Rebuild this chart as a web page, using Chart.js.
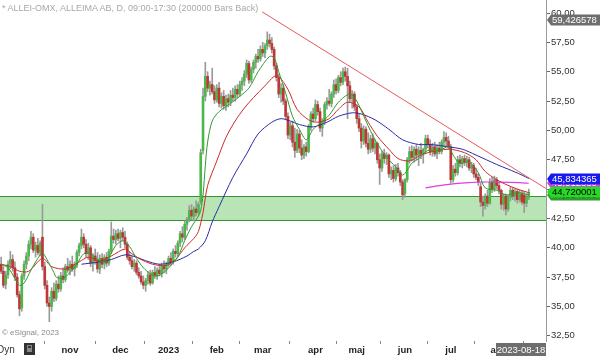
<!DOCTYPE html>
<html><head><meta charset="utf-8">
<script src="https://cdn.jsdelivr.net/npm/chart.js@4.4.0/dist/chart.umd.min.js"></script>
<style>
html,body{margin:0;padding:0;background:#fff;}
#wrap{position:relative;width:600px;height:356px;overflow:hidden;}
canvas{position:absolute;left:0;top:0;}
.t{position:absolute;font-family:"Liberation Sans",Arial,sans-serif;white-space:nowrap;line-height:1;}
</style></head><body>
<div id="wrap">
<canvas id="c" width="600" height="356"></canvas>
<div class="t" style="left:2px;top:4px;font-size:9px;color:#a8a8a8">* ALLEI-OMX, ALLEIMA AB, D, 09:00-17:30 (200000 Bars Back)</div>
<div class="t" style="left:2px;top:329px;font-size:8px;color:#8a8a8a">© eSignal, 2023</div>
<div class="t" style="left:-3px;top:345px;font-size:10px;color:#333">Dyn</div>
<div style="position:absolute;left:24px;top:343px;width:11px;height:12px;background:#333"><div style="position:absolute;left:3px;top:5px;width:5px;height:4px;background:#888"></div><div style="position:absolute;left:3px;top:2px;width:3px;height:3px;border:1px solid #888;border-bottom:none"></div></div>
</div>
<script>
// ---- data (bar index 0 = first visible trading day, 30 = 2022-11-01, 230 = 2023-08-18)
const openP = [38.6,38.0,36.9,37.7,38.6,39.0,38.3,37.5,36.0,34.9,37.6,38.6,39.3,40.3,40.9,39.8,40.2,39.6,40.9,38.4,36.8,35.3,35.0,36.3,35.7,36.9,36.5,37.6,37.3,38.4,
38.1,38.6,38.2,38.5,39.6,40.2,40.9,40.3,39.5,40.0,38.7,39.3,38.9,38.2,39.1,38.6,39.2,38.7,39.7,41.0,40.7,41.2,40.8,41.3,40.9,40.3,39.2,38.9,38.4,38.7,
37.9,37.6,37.1,36.8,37.2,37.7,37.0,37.9,37.6,38.1,37.8,38.4,38.2,38.6,39.1,38.8,39.7,39.5,40.4,41.2,40.9,42.0,42.4,43.2,42.7,43.3,43.0,43.9,48.3,52.9,
54.6,53.6,53.9,53.3,52.6,53.6,52.3,52.9,52.1,52.7,52.4,53.0,52.8,53.5,53.1,53.9,54.2,54.8,55.7,54.3,55.2,55.8,56.3,56.1,56.9,56.6,57.2,57.7,57.4,56.9,
55.5,54.5,53.1,53.6,52.5,51.2,49.6,50.4,49.0,48.3,49.7,48.5,47.9,48.6,48.2,50.3,51.4,51.0,52.2,51.6,50.2,50.7,52.2,52.5,52.3,53.1,53.9,53.4,54.5,54.1,
55.0,54.6,53.8,52.7,53.1,52.0,51.0,50.2,49.1,50.1,48.9,48.4,49.3,48.5,48.9,47.5,46.8,48.0,47.6,47.9,46.3,46.6,45.9,46.8,46.4,45.6,44.6,45.8,47.5,48.2,
47.7,48.4,47.9,48.3,48.0,48.4,49.3,48.8,48.2,48.6,48.0,48.5,48.2,49.0,49.4,49.1,48.6,45.8,46.7,46.4,47.5,47.2,47.6,47.3,47.5,46.8,47.0,46.3,46.0,45.2,
43.9,43.6,44.4,43.8,45.6,45.0,45.8,45.3,44.9,43.7,44.4,43.3,44.3,44.9,44.4,44.8,44.1,44.6,44.5,43.8,44.3];
const highP = [39.2,38.4,38.0,38.9,39.7,39.4,38.8,37.8,36.3,37.8,38.9,39.6,40.6,41.4,41.2,40.5,40.8,40.6,43.7,38.8,37.2,35.8,36.6,37.0,37.2,37.6,37.9,38.3,38.6,39.1,
38.9,39.3,38.8,39.8,40.4,41.6,41.2,40.7,40.4,40.2,39.5,39.9,39.6,39.4,39.5,39.4,39.6,39.9,42.2,41.6,41.5,41.6,41.5,41.7,41.4,40.5,39.6,39.3,39.0,38.9,
38.3,38.0,37.6,37.4,38.0,38.1,38.1,38.4,38.3,38.6,38.7,38.9,38.8,39.3,39.6,39.9,40.2,40.6,41.4,41.8,42.3,42.6,43.6,43.7,43.5,44.0,43.9,48.4,53.6,55.8,
55.0,54.2,55.3,53.8,53.9,54.1,53.2,53.4,53.0,53.1,53.4,53.6,53.8,53.9,54.2,54.5,55.1,56.0,55.9,55.4,56.0,56.5,56.9,57.2,57.5,57.4,58.4,58.2,57.9,57.1,
55.7,54.8,54.0,53.9,52.7,51.5,50.7,50.8,50.2,50.1,50.0,49.2,48.8,49.0,50.5,51.6,51.9,52.6,52.5,51.9,51.0,52.4,52.8,53.5,53.3,54.3,54.4,54.7,55.0,55.3,
55.4,55.3,54.2,53.4,53.3,52.2,51.4,50.6,50.4,50.3,49.8,49.6,49.7,49.2,49.0,48.0,48.2,48.4,48.1,48.0,46.9,47.0,47.1,47.2,46.6,45.8,45.9,47.7,48.6,48.7,
48.6,48.8,48.6,48.9,48.5,49.6,49.6,49.2,48.9,49.0,48.8,49.0,49.2,49.9,49.8,49.5,48.8,47.0,47.2,47.8,47.9,47.8,47.9,47.8,47.7,47.3,47.2,46.8,46.3,45.5,
44.4,44.6,44.9,45.9,46.0,46.1,46.0,45.6,45.0,44.6,44.6,44.5,45.2,45.1,45.0,45.0,44.9,44.9,44.8,44.6,45.0];
const lowP = [37.8,36.6,36.5,37.4,38.2,38.0,37.2,35.8,34.2,34.6,37.3,38.2,38.9,39.9,39.6,39.2,39.4,39.3,38.1,36.5,35.0,33.7,34.6,35.4,35.5,36.2,36.3,37.0,37.1,37.9,
37.7,38.0,37.6,38.3,39.3,39.9,40.0,39.2,39.0,38.4,38.0,38.6,37.9,37.8,38.3,38.2,38.4,38.5,39.5,40.4,40.3,40.6,40.0,40.6,40.0,39.0,38.6,38.2,38.0,37.7,
37.4,36.9,36.5,36.3,36.9,36.8,36.9,37.4,37.3,37.6,37.5,37.9,37.8,38.4,38.5,38.6,39.2,39.3,40.1,40.5,40.7,41.5,42.2,42.4,42.3,42.7,42.8,43.7,48.0,52.5,
53.3,53.0,53.1,52.3,52.4,52.0,51.9,51.8,51.7,52.0,52.1,52.5,52.5,52.8,52.9,53.4,53.8,54.5,54.0,54.1,54.9,55.3,55.8,55.9,56.3,56.2,56.9,57.1,56.6,55.2,
54.2,52.8,52.4,52.2,50.9,49.3,49.2,48.6,47.7,48.1,48.1,47.5,47.6,47.8,48.1,50.0,50.7,50.8,51.3,49.9,49.5,50.5,51.8,52.1,52.0,52.8,53.1,53.2,53.8,53.9,
54.2,51.0,52.4,51.9,51.7,50.6,49.9,48.5,48.8,48.6,48.0,48.1,48.2,48.0,47.2,45.4,46.5,47.2,47.1,46.0,45.8,45.6,45.7,46.1,45.3,44.1,44.3,45.6,47.2,47.4,
47.3,47.5,47.0,47.6,47.2,48.1,48.5,47.9,47.8,47.8,47.6,48.0,48.0,48.6,48.7,48.4,45.5,45.6,46.1,46.2,46.9,46.8,47.0,46.9,46.6,46.4,46.0,45.8,45.3,43.5,
42.7,43.3,43.5,43.7,44.7,44.8,45.0,44.6,43.3,43.2,42.8,43.1,44.0,44.1,44.0,43.8,43.9,43.7,43.0,43.5,44.1];
const closeP = [38.0,36.8,37.7,38.6,39.0,38.3,37.5,36.0,34.8,37.6,38.6,39.3,40.3,40.9,39.8,40.2,39.6,40.4,38.4,36.8,35.3,35.0,36.3,35.7,36.9,36.5,37.6,37.3,38.4,38.1,
38.6,38.2,38.5,39.6,40.2,40.9,40.3,39.5,40.0,38.7,39.3,38.9,38.2,39.1,38.6,39.2,38.7,39.7,41.0,40.7,41.2,40.8,41.3,40.9,40.3,39.2,38.9,38.4,38.7,37.9,
37.6,37.1,36.8,37.2,37.7,37.0,37.9,37.6,38.1,37.8,38.4,38.2,38.6,39.1,38.8,39.7,39.5,40.4,41.2,40.9,42.0,42.4,43.2,42.7,43.3,43.0,43.7,48.1,52.9,54.6,
53.6,53.9,53.3,52.6,53.6,52.3,52.9,52.1,52.7,52.4,53.0,52.8,53.5,53.1,53.9,54.2,54.8,55.7,54.3,55.2,55.8,56.3,56.1,56.9,56.6,57.2,57.7,57.4,56.9,55.5,
54.5,53.1,53.6,52.5,51.2,49.6,50.4,49.0,48.3,49.7,48.5,47.9,48.6,48.2,50.3,51.4,51.0,52.2,51.6,50.2,50.7,52.2,52.5,52.3,53.1,53.9,53.4,54.5,54.1,55.0,
54.6,53.8,52.7,53.1,52.0,51.0,50.2,49.1,50.1,48.9,48.4,49.3,48.5,48.9,47.5,46.8,48.0,47.6,47.9,46.3,46.6,45.9,46.8,46.4,45.6,44.5,45.8,47.5,48.2,47.7,
48.4,47.9,48.3,48.0,48.4,49.3,48.8,48.2,48.6,48.0,48.5,48.2,49.0,49.4,49.1,48.6,45.8,46.7,46.4,47.5,47.2,47.6,47.3,47.5,46.8,47.0,46.3,46.0,45.6,43.9,
43.6,44.4,43.8,45.6,45.0,45.8,45.3,44.9,43.7,44.4,43.3,44.3,44.9,44.4,44.8,44.1,44.6,43.9,43.8,44.3,44.72];

const monthTickIdx = [30,52,73,94,114,137,155,176,196,217];
const monthTickLabels = ['nov','dec','2023','feb','mar','apr','maj','jun','jul','aug'];
const priceTicks = [32.5,35,37.5,40,42.5,45,47.5,50,52.5,55,57.5,60];
const lastDate = '2023-08-18';

// moving averages (bar index, value)
const maFastIdx = [0,3,6,8,10,13,15,17,18,20,23,24,27,30,33,36,39,42,45,47,50,53,56,59,62,65,68,71,74,77,80,83,86,87,88,89,90,92,95,100,104,108,112,117,119,121,124,127,130,133,136,139,143,147,152,155,159,163,168,172,175,177,179,182,186,191,195,197,200,204,208,211,216,220,226,230];
const maFastVal = [38.6,38.3,37.4,36.8,37.0,38.1,38.8,39.4,39.6,39.0,37.9,37.5,37.4,37.9,38.6,39.5,39.5,39.0,38.8,39.2,40.2,40.6,40.1,39.1,38.3,37.8,37.6,37.9,38.5,39.2,40.6,41.8,42.7,43.2,44.5,47.0,49.0,50.8,51.6,52.3,52.9,53.6,55.0,56.3,56.2,55.0,53.2,51.2,50.1,49.2,50.1,50.6,51.3,52.4,53.1,52.5,50.8,49.2,47.7,46.9,46.2,46.6,47.2,47.6,48.3,48.3,48.6,47.9,47.2,47.3,46.4,45.1,44.9,44.5,44.7,44.5];
const maMidIdx = [0,4,8,12,18,22,28,34,38,43,48,54,57,60,66,72,76,80,84,86,88,90,94,98,102,106,110,115,119,121,125,129,134,138,143,147,151,156,160,164,169,173,178,182,186,195,202,207,211,216,220,225,230];
const maMidVal = [38.6,38.4,38.0,38.0,39.1,38.4,38.2,38.8,39.2,38.9,39.3,39.9,39.5,39.1,38.6,38.5,39.0,40.0,40.8,41.4,43.0,45.3,47.4,49.4,50.8,51.9,52.8,53.8,54.6,54.6,53.5,51.8,50.9,50.7,51.0,51.8,52.4,52.0,50.7,49.5,48.4,47.6,47.4,47.8,48.1,48.4,48.1,47.5,46.5,45.8,45.4,45.0,44.7];
const maSlowIdx = [35,43,48,54,59,63,69,75,81,84,86,89,92,95,101,107,112,118,122,126,130,136,142,147,153,157,163,169,175,182,187,195,201,207,216,221,227,230];
const maSlowVal = [38.6,38.8,39.0,39.4,39.2,38.9,38.6,38.8,39.3,39.7,39.9,40.6,42.2,43.5,46.0,48.0,49.7,50.7,51.0,50.8,50.5,50.3,50.7,51.2,51.5,51.4,50.9,50.1,49.2,48.8,48.8,48.6,48.4,47.9,47.1,46.7,46.2,45.9];
const vwapIdx = [185,191,197,204,208,217,226,230];
const vwapVal = [45.1,45.3,45.45,45.55,45.6,45.6,45.55,45.5];
const trendIdx = [113.8,237.5];
const trendVal = [60.1,45.05];
const zoneBounds = [42.35,44.39];

const markerValues = [59.426578,45.51288,44.514003,45.834365,44.720001];
const markerTexts = ['59,426578','45,512880','44,514003','45,834365','44,720001'];
const markerBg = ['#6e6e6e','#e23be2','#2f9a2f','#1818f0','#27d827'];
const markerFg = ['#ffffff','#ffffff','#0a3a0a','#ffffff','#000000'];

// ---- build
const FONT = '"Liberation Sans", Arial, sans-serif';
const idx = closeP.map((_, i) => i);
const pts = (xs, ys) => xs.map((x, k) => ({x: x, y: ys[k]}));
const upBar = idx.map(i => closeP[i] >= openP[i]);

const overlay = {
  id: 'overlay',
  beforeDatasetsDraw(chart) {
    const {ctx, chartArea: a, scales: {y}} = chart;
    const yt = y.getPixelForValue(zoneBounds[1]);
    const yb = y.getPixelForValue(zoneBounds[0]);
    ctx.save();
    ctx.fillStyle = '#b9e5b6';
    ctx.fillRect(a.left, yt, a.right - a.left, yb - yt);
    ctx.strokeStyle = '#2f962f';
    ctx.lineWidth = 1;
    ctx.beginPath();
    ctx.moveTo(a.left, Math.round(yt) + 0.5); ctx.lineTo(a.right, Math.round(yt) + 0.5);
    ctx.moveTo(a.left, Math.round(yb) + 0.5); ctx.lineTo(a.right, Math.round(yb) + 0.5);
    ctx.stroke();
    ctx.restore();
  },
  afterDraw(chart) {
    const {ctx, chartArea: a, scales: {y}} = chart;
    ctx.save();
    ctx.font = '9.5px ' + FONT;
    ctx.textBaseline = 'middle';
    markerValues.forEach((v, k) => {
      const py = Math.round(y.getPixelForValue(v));
      const x0 = a.right + 1, x1 = a.right + 5;
      ctx.fillStyle = markerBg[k];
      ctx.beginPath();
      ctx.moveTo(x0, py);
      ctx.lineTo(x1, py - 5.5);
      ctx.lineTo(600, py - 5.5);
      ctx.lineTo(600, py + 5.5);
      ctx.lineTo(x1, py + 5.5);
      ctx.closePath();
      ctx.fill();
      ctx.fillStyle = markerFg[k];
      ctx.textAlign = 'left';
      ctx.fillText(markerTexts[k], x1 + 1, py + 0.5);
    });
    ctx.fillStyle = '#6e6e6e';
    ctx.fillRect(a.right - 50, a.bottom + 2, 50, 14);
    ctx.fillStyle = '#ffffff';
    ctx.textAlign = 'center';
    ctx.fillText(lastDate, a.right - 25, a.bottom + 9.5);
    ctx.restore();
  }
};

new Chart(document.getElementById('c'), {
  type: 'bar',
  data: {
    datasets: [
      {type: 'line', data: pts(trendIdx, trendVal), borderColor: '#e65a5a', borderWidth: 1, pointRadius: 0, order: 1},
      {type: 'line', data: pts(maFastIdx, maFastVal), borderColor: '#2f9a2f', borderWidth: 1, pointRadius: 0, tension: 0.3, order: 2},
      {type: 'line', data: pts(maMidIdx, maMidVal), borderColor: '#cc2a2a', borderWidth: 1, pointRadius: 0, tension: 0.3, order: 3},
      {type: 'line', data: pts(maSlowIdx, maSlowVal), borderColor: '#2a2aa6', borderWidth: 1, pointRadius: 0, tension: 0.3, order: 4},
      {type: 'line', data: pts(vwapIdx, vwapVal), borderColor: '#e03ce0', borderWidth: 1.2, pointRadius: 0, tension: 0.3, order: 5},
      {type: 'bar', data: idx.map(i => ({x: i, y: [lowP[i], highP[i]]})), backgroundColor: '#9a9a9a', barThickness: 1, grouped: false, order: 20},
      {type: 'bar', data: idx.map(i => ({x: i, y: [openP[i], closeP[i]]})), backgroundColor: upBar.map(u => u ? '#4cb84c' : '#c23535'), barThickness: 2, minBarLength: 1, grouped: false, order: 19}
    ]
  },
  options: {
    responsive: false,
    animation: false,
    devicePixelRatio: 1,
    layout: {padding: 0},
    plugins: {legend: {display: false}, tooltip: {enabled: false}, title: {display: false}},
    scales: {
      x: {
        type: 'linear', min: -0.5, max: 237.5, offset: false,
        grid: {display: true, drawOnChartArea: false, drawTicks: true, tickLength: 3, color: '#888'},
        border: {display: false},
        afterBuildTicks: s => { s.ticks = monthTickIdx.map(v => ({value: v})); },
        afterFit: s => { s.height = 15; s.paddingLeft = 0; s.paddingRight = 0; },
        ticks: {
          autoSkip: false, maxRotation: 0, minRotation: 0, padding: 1, color: '#222',
          font: {family: FONT, size: 9.5, weight: 'bold'},
          callback: v => { const k = monthTickIdx.indexOf(v); return k >= 0 ? monthTickLabels[k] : ''; }
        }
      },
      y: {
        type: 'linear', position: 'right', min: 32.06, max: 61.11,
        grid: {display: true, drawOnChartArea: false, drawTicks: true, tickLength: 4, color: '#666'},
        border: {display: true, color: '#9a9a9a', width: 1},
        afterBuildTicks: s => { s.ticks = priceTicks.map(v => ({value: v})); },
        afterFit: s => { s.width = 54; s.paddingTop = 0; s.paddingBottom = 0; },
        ticks: {
          padding: 1, color: '#333', font: {family: FONT, size: 9.5},
          callback: v => Number(v).toFixed(2).replace('.', ',')
        }
      }
    }
  },
  plugins: [overlay]
});
</script>
</body></html>
